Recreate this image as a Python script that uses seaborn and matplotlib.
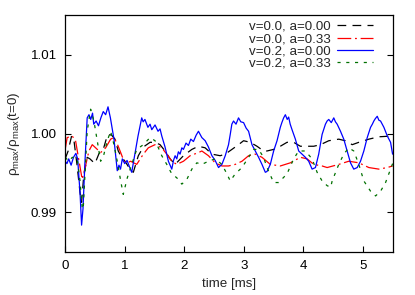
import numpy as np
import pandas as pd
import seaborn as sns
import matplotlib
matplotlib.use("Agg")
import matplotlib.pyplot as plt

# v=0.0, a=0.00 (black dashed)
t_k = [0, 0.05, 0.108, 0.15, 0.20, 0.25, 0.276, 0.31, 0.37, 0.416, 0.50, 0.57, 0.64, 0.69,
       0.724, 0.781, 0.837, 0.892, 0.949, 1.005, 1.089, 1.145, 1.229, 1.313, 1.426, 1.51,
       1.594, 1.678, 1.763, 1.847, 1.987, 2.128, 2.239, 2.352, 2.465, 2.604, 2.689, 2.801,
       2.912, 2.997, 3.109, 3.222, 3.333, 3.39, 3.502, 3.614, 3.727, 3.838, 3.951, 4.064,
       4.175, 4.288, 4.428, 4.596, 4.705, 4.822, 4.933, 5.101, 5.269, 5.5]
r_k = [0.9968, 0.9978, 0.9997, 0.9990, 0.9960, 0.9925, 0.9913, 0.9945, 0.9970, 0.9968,
       0.9962, 0.9975, 0.9980, 0.9993, 0.9999, 0.9998, 0.9993, 0.9978, 0.9970, 0.9965,
       0.9955, 0.9951, 0.9972, 0.9983, 0.9989, 0.9989, 0.9986, 0.9978, 0.9968, 0.9961,
       0.9972, 0.9980, 0.9984, 0.9982, 0.9974, 0.9972, 0.9974, 0.9980, 0.9986, 0.9991,
       0.9989, 0.9984, 0.9978, 0.9978, 0.9980, 0.9984, 0.9989, 0.9989, 0.9984, 0.9984,
       0.9984, 0.9986, 0.9991, 0.9993, 0.9991, 0.9986, 0.9989, 0.9993, 0.9996, 0.9997]

# v=0.0, a=0.33 (red dash-dot)
t_r = [0, 0.034, 0.118, 0.175, 0.231, 0.286, 0.33, 0.399, 0.455, 0.512, 0.596, 0.68, 0.764,
       0.82, 0.875, 0.933, 0.988, 1.044, 1.101, 1.202, 1.313, 1.397, 1.51, 1.623, 1.707,
       1.791, 1.875, 1.987, 2.099, 2.239, 2.296, 2.407, 2.52, 2.633, 2.744, 2.857, 2.970,
       3.081, 3.194, 3.306, 3.446, 3.614, 3.783, 3.951, 4.064, 4.175, 4.316, 4.401, 4.596,
       4.764, 4.933, 5.101, 5.269, 5.411, 5.5]
r_r = [0.9980, 0.9995, 0.9997, 0.9991, 0.9966, 0.9942, 0.9955, 0.9978, 0.9986, 0.9982,
       0.9976, 0.9982, 0.9993, 0.9995, 0.9987, 0.9976, 0.9965, 0.9963, 0.9965, 0.9961,
       0.9974, 0.9982, 0.9986, 0.9982, 0.9974, 0.9965, 0.9961, 0.9965, 0.9972, 0.9976,
       0.9978, 0.9972, 0.9963, 0.9959, 0.9959, 0.9961, 0.9965, 0.9972, 0.9974, 0.9970,
       0.9961, 0.9959, 0.9963, 0.9970, 0.9968, 0.9961, 0.9959, 0.9957, 0.9961, 0.9965,
       0.9963, 0.9957, 0.9955, 0.9957, 0.9959]

# v=0.2, a=0.00 (blue solid)
t_b = [0, 0.03, 0.06, 0.10, 0.14, 0.18, 0.21, 0.25, 0.276, 0.30, 0.33, 0.37, 0.40, 0.43,
       0.46, 0.48, 0.52, 0.56, 0.60, 0.64, 0.68, 0.72, 0.76, 0.82, 0.875, 0.904, 0.93, 0.96,
       1.00, 1.04, 1.08, 1.118, 1.173, 1.224, 1.286, 1.31, 1.34, 1.39, 1.426, 1.455, 1.51,
       1.56, 1.594, 1.623, 1.678, 1.734, 1.791, 1.82, 1.847, 1.875, 1.902, 1.93, 1.96,
       1.987, 2.03, 2.071, 2.11, 2.155, 2.20, 2.239, 2.296, 2.352, 2.407, 2.465, 2.52,
       2.576, 2.633, 2.689, 2.744, 2.773, 2.80, 2.828, 2.87, 2.912, 2.95, 2.997, 3.04,
       3.081, 3.138, 3.194, 3.249, 3.306, 3.362, 3.391, 3.446, 3.502, 3.559, 3.614, 3.64,
       3.67, 3.699, 3.73, 3.754, 3.78, 3.811, 3.867, 3.923, 3.98, 4.035, 4.091, 4.148,
       4.204, 4.259, 4.316, 4.372, 4.40, 4.428, 4.47, 4.512, 4.54, 4.569, 4.625, 4.68,
       4.737, 4.793, 4.848, 4.906, 4.961, 5.017, 5.074, 5.13, 5.16, 5.185, 5.21, 5.242,
       5.27, 5.298, 5.354, 5.411, 5.466, 5.5]
r_b = [0.9965, 0.9962, 0.9968, 0.9960, 0.9970, 0.9975, 0.9968, 0.9925, 0.9884, 0.9905,
       0.9960, 1.0020, 1.0024, 1.0018, 1.0026, 1.0012, 1.0016, 1.0010, 1.0020, 1.0028,
       1.0024, 1.0034, 1.0020, 0.9993, 0.9953, 0.9960, 0.9955, 0.9968, 0.9962, 0.9966,
       0.9958, 0.9951, 0.9975, 0.9997, 1.0020, 1.0015, 1.0018, 1.0008, 1.0012, 1.0005,
       1.0011, 1.0003, 1.0006, 0.9997, 0.9983, 0.9965, 0.9955, 0.9966, 0.9972, 0.9968,
       0.9977, 0.9974, 0.9982, 0.9980, 0.9988, 0.9985, 0.9993, 0.9990, 0.9998, 1.0003,
       0.9995, 0.9991, 0.9983, 0.9972, 0.9966, 0.9957, 0.9961, 0.9972, 0.9986, 0.9999,
       1.0012, 1.0016, 1.0012, 1.0020, 1.0015, 1.0014, 1.0007, 1.0003, 0.9986, 0.9978,
       0.9970, 0.9961, 0.9951, 0.9952, 0.9961, 0.9978, 0.9991, 1.0008, 1.0014, 1.0020,
       1.0024, 1.0018, 1.0021, 1.0012, 1.0005, 0.9993, 0.9978, 0.9974, 0.9970, 0.9965,
       0.9955, 0.9957, 0.9974, 0.9999, 1.0012, 1.0016, 1.0018, 1.0014, 1.0020, 1.0015,
       1.0012, 1.0003, 0.9993, 0.9978, 0.9963, 0.9955, 0.9957, 0.9965, 0.9978, 0.9995,
       1.0008, 1.0012, 1.0016, 1.0019, 1.0022, 1.0017, 1.0016, 1.0008, 0.9997, 0.9989,
       0.9974]

# v=0.2, a=0.33 (green short dashes)
t_g = [0, 0.062, 0.12, 0.202, 0.25, 0.286, 0.303, 0.37, 0.428, 0.483, 0.539, 0.596, 0.652,
       0.707, 0.764, 0.82, 0.875, 0.933, 0.976, 1.044, 1.101, 1.202, 1.313, 1.426, 1.51,
       1.566, 1.623, 1.707, 1.791, 1.875, 1.96, 2.044, 2.128, 2.212, 2.296, 2.407, 2.52,
       2.633, 2.717, 2.773, 2.857, 2.970, 3.081, 3.165, 3.249, 3.333, 3.391, 3.502, 3.586,
       3.727, 3.838, 3.923, 4.035, 4.148, 4.232, 4.316, 4.401, 4.46, 4.485, 4.596, 4.68,
       4.764, 4.848, 4.933, 5.017, 5.13, 5.214, 5.298, 5.382, 5.466, 5.5]
r_g = [0.9970, 0.9965, 0.9970, 0.9968, 0.9940, 0.9906, 0.9904, 1.0003, 1.0031, 1.0016,
       0.9991, 0.9965, 0.9974, 0.9991, 1.0003, 0.9986, 0.9965, 0.9940, 0.9923, 0.9944,
       0.9957, 0.9980, 0.9986, 0.9995, 0.9991, 0.9982, 0.9972, 0.9961, 0.9949, 0.9944,
       0.9936, 0.9942, 0.9955, 0.9963, 0.9961, 0.9965, 0.9968, 0.9961, 0.9949, 0.9940,
       0.9949, 0.9957, 0.9970, 0.9980, 0.9980, 0.9970, 0.9957, 0.9938, 0.9938, 0.9949,
       0.9968, 0.9978, 0.9978, 0.9968, 0.9951, 0.9940, 0.9934, 0.9932, 0.9940, 0.9961,
       0.9974, 0.9982, 0.9978, 0.9961, 0.9940, 0.9927, 0.9921, 0.9927, 0.9938, 0.9955,
       0.9962]

labels = ["v=0.0, a=0.00", "v=0.0, a=0.33", "v=0.2, a=0.00", "v=0.2, a=0.33"]
colors = ["#000000", "#ff0000", "#0000ff", "#007000"]
dash_styles = [(7, 5), (11, 3, 1.5, 3), "", (2.5, 4.5)]

df = pd.concat([
    pd.DataFrame({"t": t_k, "rho": r_k, "run": labels[0]}),
    pd.DataFrame({"t": t_r, "rho": r_r, "run": labels[1]}),
    pd.DataFrame({"t": t_b, "rho": r_b, "run": labels[2]}),
    pd.DataFrame({"t": t_g, "rho": r_g, "run": labels[3]}),
])

sns.set_style("ticks")
plt.rcParams["font.family"] = ["Liberation Sans", "DejaVu Sans"]
plt.rcParams["mathtext.default"] = "regular"

fig = plt.figure(figsize=(4.15, 2.95), dpi=100)
ax = fig.add_axes([0.157, 0.146, 0.789, 0.802])

sns.lineplot(data=df, x="t", y="rho", hue="run", style="run", hue_order=labels,
             style_order=labels, palette=dict(zip(labels, colors)),
             dashes=dict(zip(labels, dash_styles)), sort=False, linewidth=0.9, ax=ax)

ax.set_xlim(0, 5.5)
ax.set_ylim(0.985, 1.015)
ax.set_xticks([0, 1, 2, 3, 4, 5])
ax.set_yticks([0.99, 1.00, 1.01])
ax.set_yticklabels(["0.99", "1.00", "1.01"])
ax.tick_params(direction="in", length=4, width=0.8, labelsize=9.6, right=True, top=False,
               colors="black", pad=6)
for s in ax.spines.values():
    s.set_visible(True)
    s.set_linewidth(0.9)
    s.set_color("black")

ax.set_xlabel("time [ms]", fontsize=9.6, labelpad=4)
ax.set_ylabel("ρ$_{max}$/ρ$_{max}$(t=0)", fontsize=9.6, labelpad=6)

handles, lbls = ax.get_legend_handles_labels()
ax.legend(handles, lbls, loc="upper right", frameon=False, markerfirst=False,
          fontsize=9.6, labelspacing=0.0, handlelength=2.7, handletextpad=0.5,
          borderaxespad=0.3, bbox_to_anchor=(0.97, 1.017))

fig.savefig("out.png", dpi=100)
